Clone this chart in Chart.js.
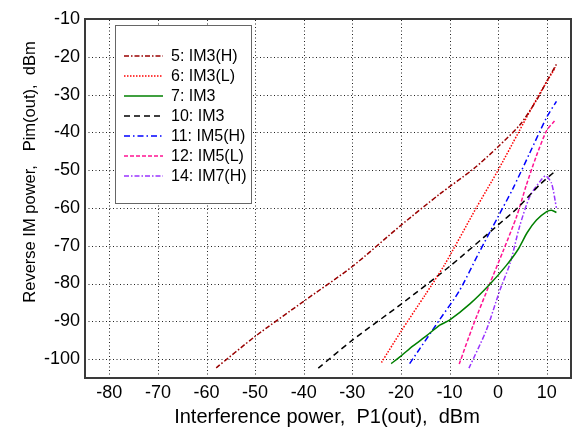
<!DOCTYPE html>
<html>
<head>
<meta charset="utf-8">
<script src="https://cdn.jsdelivr.net/npm/chart.js@4/dist/chart.umd.min.js"></script>
<style>
  html, body { margin: 0; padding: 0; background: #fff; }
  canvas { display: block; }
</style>
</head>
<body>
<canvas id="chart" width="575" height="431"></canvas>
<script>
// --- data ---
const xTicks = [-80, -70, -60, -50, -40, -30, -20, -10, 0, 10];
const yTicks = [-100, -90, -80, -70, -60, -50, -40, -30, -20, -10];

const xTitle = 'Interference power,  P1(out),  dBm';
const yTitle = 'Reverse IM power,   Pim(out),  dBm';

const seriesLabels = ['5: IM3(H)', '6: IM3(L)', '7: IM3', '10: IM3', '11: IM5(H)', '12: IM5(L)', '14: IM7(H)'];

const im3hX = [-58, -50, -40, -30, -20, -12, -5, 0, 4.5, 8, 10, 12];
const im3hY = [-102.3, -94, -84.7, -75.5, -64.6, -56.3, -49.6, -43.8, -38, -31.3, -26.5, -22];

const im3lX = [-24, -20, -15, -11, -4.5, 0, 4.2, 8, 11.8];
const im3lY = [-100.9, -92.7, -83, -75, -60, -50, -40, -31, -22.8];

const im3X = [-22, -20, -17.5, -14.7, -12, -10, -5.8, -1.7, 1.7, 4.1, 6, 7.9, 10, 11, 12];
const im3Y = [-101.2, -99.2, -96.5, -93.8, -91, -89.7, -85.4, -80.2, -75.2, -71, -66.5, -63.2, -61, -60.6, -61.2];

const im3bX = [-37, -30, -20, -10, 0, 4, 8.6, 12];
const im3bY = [-102.4, -95, -85.5, -75.5, -64.5, -60, -53.8, -50];

const im5hX = [-18.2, -12, -8, -4, 0, 3, 6.5, 10, 12];
const im5hY = [-101.2, -89.5, -82, -72, -62.3, -55, -45.5, -36, -31.8];

const im5lX = [-8, -5.2, -1.7, 1, 3.8, 5.8, 7.8, 10, 11.6];
const im5lY = [-101.3, -91.3, -80, -71.5, -62.3, -54, -46.5, -39.5, -37];

const im7hX = [-6, -2.4, 0.3, 2.5, 4.4, 6.5, 8.6, 9.8, 11, 12];
const im7hY = [-102.4, -92.3, -82, -74.5, -65, -57, -53, -51.5, -53.5, -60];

const seriesX = [im3hX, im3lX, im3X, im3bX, im5hX, im5lX, im7hX];
const seriesY = [im3hY, im3lY, im3Y, im3bY, im5hY, im5lY, im7hY];

// styles per series
const colors = ['#990000', '#ff0000', '#008000', '#000000', '#0000ff', '#ff1493', '#9933ff'];
const dashes = [[5, 2, 1.5, 2], [1.5, 1.5], [], [6, 4], [6, 3, 1.5, 3], [4, 2], [5, 2, 1.5, 2]];

const FONT = 'Arial, "Liberation Sans", Helvetica, sans-serif';

const datasets = seriesLabels.map((label, i) => ({
  label,
  data: seriesX[i].map((x, j) => ({ x, y: seriesY[i][j] })),
  borderColor: colors[i],
  borderDash: dashes[i],
  borderWidth: 1.5,
  pointRadius: 0,
  tension: 0.25,
  fill: false
}));

// dotted grid under the lines
const gridPlugin = {
  id: 'dotgrid',
  beforeDatasetsDraw(chart) {
    const { ctx, chartArea: a, scales } = chart;
    ctx.save();
    ctx.strokeStyle = '#222';
    ctx.lineWidth = 1;
    ctx.setLineDash([1, 2.5]);
    xTicks.forEach(v => {
      const px = Math.round(scales.x.getPixelForValue(v)) + 0.5;
      ctx.beginPath(); ctx.moveTo(px, a.bottom); ctx.lineTo(px, a.top); ctx.stroke();
    });
    yTicks.forEach(v => {
      const py = Math.round(scales.y.getPixelForValue(v)) + 0.5;
      ctx.beginPath(); ctx.moveTo(a.left, py); ctx.lineTo(a.right, py); ctx.stroke();
    });
    ctx.restore();
  }
};

// frame, axis titles and legend box
const framePlugin = {
  id: 'frame',
  afterDatasetsDraw(chart) {
    const { ctx, chartArea: a } = chart;
    ctx.save();
    ctx.setLineDash([]);
    ctx.strokeStyle = '#3a3a3a';
    ctx.lineWidth = 2;
    ctx.strokeRect(a.left, a.top, a.right - a.left, a.bottom - a.top);

    // axis titles
    ctx.fillStyle = '#000';
    ctx.textAlign = 'center';
    ctx.textBaseline = 'middle';
    ctx.font = '20px ' + FONT;
    ctx.fillText(xTitle, 327, 417);
    ctx.save();
    ctx.translate(30, 172);
    ctx.rotate(-Math.PI / 2);
    ctx.font = '16.5px ' + FONT;
    ctx.fillText(yTitle, 0, 0);
    ctx.restore();

    // legend
    const bx = 115, by = 25, bw = 136, bh = 178;
    ctx.fillStyle = '#fff';
    ctx.fillRect(bx, by, bw, bh);
    ctx.strokeStyle = '#666';
    ctx.lineWidth = 1;
    ctx.strokeRect(bx + 0.5, by + 0.5, bw, bh);
    ctx.font = '16px ' + FONT;
    ctx.textBaseline = 'middle';
    ctx.textAlign = 'left';
    chart.data.datasets.forEach((ds, i) => {
      const y = 56 + i * 20;
      ctx.strokeStyle = ds.borderColor;
      ctx.lineWidth = 1.5;
      ctx.setLineDash(ds.borderDash);
      ctx.beginPath();
      ctx.moveTo(124, y);
      ctx.lineTo(163, y);
      ctx.stroke();
      ctx.setLineDash([]);
      ctx.fillStyle = '#000';
      ctx.fillText(ds.label, 171, y + 1);
    });
    ctx.restore();
  }
};

new Chart(document.getElementById('chart'), {
  type: 'line',
  data: { datasets },
  options: {
    responsive: false,
    animation: false,
    layout: { padding: { top: 19, right: 4, left: 0, bottom: 0 } },
    plugins: { legend: { display: false }, tooltip: { enabled: false } },
    scales: {
      x: {
        type: 'linear',
        min: -85,
        max: 15,
        afterBuildTicks: (s) => { s.ticks = xTicks.map(v => ({ value: v })); },
        afterFit: (s) => { s.height = 53; },
        grid: { display: false, drawTicks: false },
        border: { display: false },
        ticks: { color: '#000', font: { family: FONT, size: 18 }, padding: 4, maxRotation: 0 }
      },
      y: {
        min: -105,
        max: -10,
        afterBuildTicks: (s) => { s.ticks = yTicks.map(v => ({ value: v })); },
        afterFit: (s) => { s.width = 85; },
        grid: { display: false, drawTicks: false },
        border: { display: false },
        ticks: { color: '#000', font: { family: FONT, size: 18 }, padding: 5 }
      }
    }
  },
  plugins: [gridPlugin, framePlugin]
});
</script>
</body>
</html>
